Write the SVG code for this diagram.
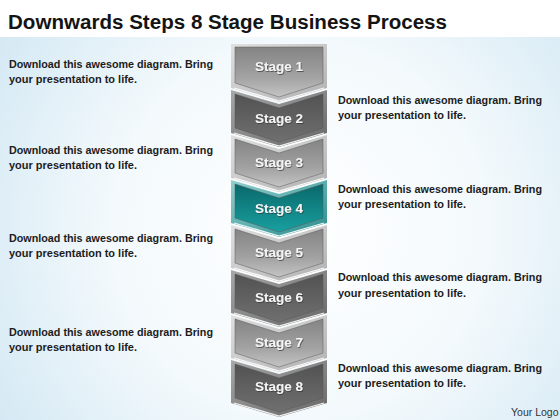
<svg xmlns="http://www.w3.org/2000/svg" width="560" height="420" viewBox="0 0 560 420">
<defs>
<radialGradient id="bg" cx="300" cy="230" r="420" gradientUnits="userSpaceOnUse">
<stop offset="0" stop-color="#ffffff"/>
<stop offset="0.45" stop-color="#f3f9fc"/>
<stop offset="1" stop-color="#c9e3f1"/>
</radialGradient>
<linearGradient id="lightFace" x1="0" y1="0" x2="0" y2="1">
<stop offset="0" stop-color="#848484"/>
<stop offset="0.6" stop-color="#a2a2a2"/>
<stop offset="1" stop-color="#c4c4c4"/>
</linearGradient>
<linearGradient id="lightBevel" x1="0" y1="0" x2="1" y2="1">
<stop offset="0" stop-color="#e0e0e0"/>
<stop offset="1" stop-color="#b0b0b0"/>
</linearGradient>
<linearGradient id="darkFace" x1="0" y1="0" x2="0" y2="1">
<stop offset="0" stop-color="#525252"/>
<stop offset="1" stop-color="#707070"/>
</linearGradient>
<linearGradient id="darkBevel" x1="0" y1="0" x2="1" y2="1">
<stop offset="0" stop-color="#a8a8a8"/>
<stop offset="1" stop-color="#666666"/>
</linearGradient>
<linearGradient id="tealFace" x1="0" y1="0" x2="0" y2="1">
<stop offset="0" stop-color="#0a686a"/>
<stop offset="1" stop-color="#18a0a0"/>
</linearGradient>
<linearGradient id="tealBevel" x1="0" y1="0" x2="1" y2="1">
<stop offset="0" stop-color="#8fd0d0"/>
<stop offset="1" stop-color="#2b8c8c"/>
</linearGradient>
<filter id="ts" x="-20%" y="-40%" width="140%" height="180%">
<feDropShadow dx="0.8" dy="1" stdDeviation="0.6" flood-color="#333333" flood-opacity="0.7"/>
</filter>
</defs>
<style>
.title{font-family:"Liberation Sans",Arial,sans-serif;font-weight:bold;font-size:19.5px;fill:#141414}
.desc{font-family:"Liberation Sans",Arial,sans-serif;font-weight:bold;font-size:10.5px;fill:#1c1c1c}
.lbl{font-family:"Liberation Sans",Arial,sans-serif;font-weight:bold;font-size:13.5px;fill:#f4f4f4;text-anchor:middle;filter:url(#ts)}
.logo{font-family:"Liberation Sans",Arial,sans-serif;font-size:10.5px;fill:#333333}
.hl{fill:none;stroke:#ffffff;stroke-width:1.3;stroke-opacity:0.9}
.edge{stroke:#555555;stroke-width:0.8;stroke-opacity:0.6}
</style>
<rect x="0" y="0" width="560" height="420" fill="url(#bg)"/>
<rect x="0" y="0" width="560" height="37" fill="#ffffff"/>
<text class="title" x="8" y="29" textLength="439" lengthAdjust="spacingAndGlyphs">Downwards Steps 8 Stage Business Process</text>

<g id="stages">
<g id="stage1">
<path d="M231 44 L327 44 L327 88 L279 102 L231 88 Z" fill="url(#lightBevel)"/>
<path d="M235 47 L323 47 L323 83 L279 97 L235 83 Z" fill="url(#lightFace)" class="edge"/>
<path d="M234 88 L279 101 L324 88" class="hl"/>
<text class="lbl" x="279" y="71">Stage 1</text>
</g>
<g id="stage2">
<path d="M231 90 L279 104 L327 90 L327 133 L279 147 L231 133 Z" fill="url(#darkBevel)"/>
<path d="M235 94 L279 108 L323 94 L323 128 L279 142 L235 128 Z" fill="url(#darkFace)" class="edge"/>
<path d="M234 133 L279 146 L324 133" class="hl"/>
<text class="lbl" x="279" y="123">Stage 2</text>
</g>
<g id="stage3">
<path d="M231 135 L279 149 L327 135 L327 178 L279 192 L231 178 Z" fill="url(#lightBevel)"/>
<path d="M235 139 L279 153 L323 139 L323 173 L279 187 L235 173 Z" fill="url(#lightFace)" class="edge"/>
<path d="M234 178 L279 191 L324 178" class="hl"/>
<text class="lbl" x="279" y="167">Stage 3</text>
</g>
<g id="stage4">
<path d="M231 180 L279 194 L327 180 L327 223 L279 237 L231 223 Z" fill="url(#tealBevel)"/>
<path d="M235 184 L279 198 L323 184 L323 218 L279 232 L235 218 Z" fill="url(#tealFace)" class="edge"/>
<path d="M234 223 L279 236 L324 223" class="hl"/>
<text class="lbl" x="279" y="213">Stage 4</text>
</g>
<g id="stage5">
<path d="M231 225 L279 239 L327 225 L327 268 L279 282 L231 268 Z" fill="url(#lightBevel)"/>
<path d="M235 229 L279 243 L323 229 L323 263 L279 277 L235 263 Z" fill="url(#lightFace)" class="edge"/>
<path d="M234 268 L279 281 L324 268" class="hl"/>
<text class="lbl" x="279" y="257">Stage 5</text>
</g>
<g id="stage6">
<path d="M231 270 L279 284 L327 270 L327 313 L279 327 L231 313 Z" fill="url(#darkBevel)"/>
<path d="M235 274 L279 288 L323 274 L323 308 L279 322 L235 308 Z" fill="url(#darkFace)" class="edge"/>
<path d="M234 313 L279 326 L324 313" class="hl"/>
<text class="lbl" x="279" y="302">Stage 6</text>
</g>
<g id="stage7">
<path d="M231 315 L279 329 L327 315 L327 358 L279 372 L231 358 Z" fill="url(#lightBevel)"/>
<path d="M235 319 L279 333 L323 319 L323 353 L279 367 L235 353 Z" fill="url(#lightFace)" class="edge"/>
<path d="M234 358 L279 371 L324 358" class="hl"/>
<text class="lbl" x="279" y="347">Stage 7</text>
</g>
<g id="stage8">
<path d="M231 360 L279 374 L327 360 L327 403 L279 417 L231 403 Z" fill="url(#darkBevel)"/>
<path d="M235 364 L279 378 L323 364 L323 398 L279 412 L235 398 Z" fill="url(#darkFace)" class="edge"/>
<path d="M234 403 L279 416 L324 403" class="hl"/>
<text class="lbl" x="279" y="391">Stage 8</text>
</g>
</g>

<g id="connectors"></g>

<g id="desc-left-1"><text class="desc" x="9" y="68" textLength="204" lengthAdjust="spacingAndGlyphs">Download this awesome diagram. Bring</text><text class="desc" x="9" y="83" textLength="128" lengthAdjust="spacingAndGlyphs">your presentation to life.</text></g>
<g id="desc-left-2"><text class="desc" x="9" y="154" textLength="204" lengthAdjust="spacingAndGlyphs">Download this awesome diagram. Bring</text><text class="desc" x="9" y="169" textLength="128" lengthAdjust="spacingAndGlyphs">your presentation to life.</text></g>
<g id="desc-left-3"><text class="desc" x="9" y="242" textLength="204" lengthAdjust="spacingAndGlyphs">Download this awesome diagram. Bring</text><text class="desc" x="9" y="257" textLength="128" lengthAdjust="spacingAndGlyphs">your presentation to life.</text></g>
<g id="desc-left-4"><text class="desc" x="9" y="336" textLength="204" lengthAdjust="spacingAndGlyphs">Download this awesome diagram. Bring</text><text class="desc" x="9" y="351" textLength="128" lengthAdjust="spacingAndGlyphs">your presentation to life.</text></g>
<g id="desc-right-1"><text class="desc" x="338" y="104" textLength="204" lengthAdjust="spacingAndGlyphs">Download this awesome diagram. Bring</text><text class="desc" x="338" y="119" textLength="128" lengthAdjust="spacingAndGlyphs">your presentation to life.</text></g>
<g id="desc-right-2"><text class="desc" x="338" y="193" textLength="204" lengthAdjust="spacingAndGlyphs">Download this awesome diagram. Bring</text><text class="desc" x="338" y="208" textLength="128" lengthAdjust="spacingAndGlyphs">your presentation to life.</text></g>
<g id="desc-right-3"><text class="desc" x="338" y="281" textLength="204" lengthAdjust="spacingAndGlyphs">Download this awesome diagram. Bring</text><text class="desc" x="338" y="297" textLength="128" lengthAdjust="spacingAndGlyphs">your presentation to life.</text></g>
<g id="desc-right-4"><text class="desc" x="338" y="372" textLength="204" lengthAdjust="spacingAndGlyphs">Download this awesome diagram. Bring</text><text class="desc" x="338" y="387" textLength="128" lengthAdjust="spacingAndGlyphs">your presentation to life.</text></g>

<text class="logo" x="511" y="416">Your Logo</text>
</svg>
